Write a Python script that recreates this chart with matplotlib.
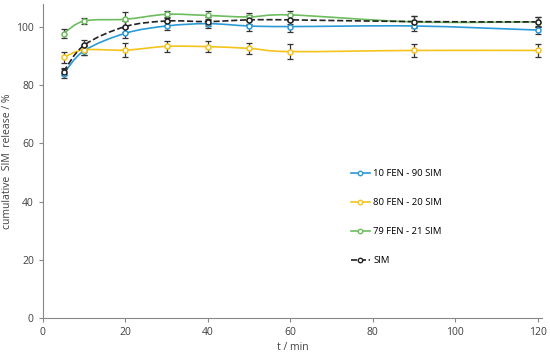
import numpy as np
import matplotlib.pyplot as plt
from matplotlib.path import Path
from matplotlib.patches import PathPatch

plt.rcParams['font.family'] = ['Open Sans', 'DejaVu Sans']

t = [5, 10, 20, 30, 40, 50, 60, 90, 120]

fen10 = [83.9, 91.8, 97.8, 100.3, 101.1, 100.3, 100.1, 100.3, 98.9]
fen10_err = [1.5, 1.5, 1.8, 1.5, 1.5, 1.8, 2.0, 1.8, 1.5]
fen80 = [89.5, 92.1, 92.0, 93.3, 93.2, 92.6, 91.5, 91.9, 91.9]
fen80_err = [2.0, 1.8, 2.5, 1.8, 1.8, 1.8, 2.5, 2.2, 2.2]
fen79 = [97.7, 102.0, 102.6, 104.3, 103.9, 103.4, 104.1, 101.7, 101.7]
fen79_err = [1.5, 1.0, 2.5, 1.2, 1.5, 1.2, 1.5, 2.0, 1.8]
sim = [84.6, 93.7, 100.1, 102.0, 101.8, 102.4, 102.4, 101.8, 101.7]
sim_err = [1.2, 1.8, 2.0, 1.5, 1.5, 1.5, 1.5, 1.8, 1.8]

labels = ['10 FEN - 90 SIM', '80 FEN - 20 SIM', '79 FEN - 21 SIM', 'SIM']
colors = ['#2b9ad8', '#f5c31c', '#6cbd5e', '#222222']
styles = ['-', '-', '-', '--']


def smooth_path(x, y):
    # excel style smoothed line (catmull-rom as bezier)
    x = np.asarray(x, float)
    y = np.asarray(y, float)
    verts = [(x[0], y[0])]
    codes = [Path.MOVETO]
    n = len(x)
    for i in range(n - 1):
        x0, y0 = (x[i - 1], y[i - 1]) if i > 0 else (x[i], y[i])
        x3, y3 = (x[i + 2], y[i + 2]) if i + 2 < n else (x[i + 1], y[i + 1])
        c1 = (x[i] + (x[i + 1] - x0) / 6, y[i] + (y[i + 1] - y0) / 6)
        c2 = (x[i + 1] - (x3 - x[i]) / 6, y[i + 1] - (y3 - y[i]) / 6)
        verts += [c1, c2, (x[i + 1], y[i + 1])]
        codes += [Path.CURVE4] * 3
    return Path(verts, codes)


fig = plt.figure(figsize=(5.5, 3.55), dpi=100)
ax = fig.add_axes([0.078, 0.104, 0.907, 0.886])

series = [(fen10, fen10_err), (fen80, fen80_err), (fen79, fen79_err), (sim, sim_err)]
for (vals, err), lab, col, ls in zip(series, labels, colors, styles):
    ax.add_patch(PathPatch(smooth_path(t, vals), fill=False, edgecolor=col,
                           lw=1.2, ls=ls, zorder=2))
    ax.errorbar(t, vals, yerr=err, fmt='none', ecolor='#333333', elinewidth=0.9,
                capsize=2, capthick=0.9, zorder=3)
    ax.plot(t, vals, ls='none', marker='o', ms=3.6, mfc='white', mec=col,
            mew=1.1, zorder=4)
    ax.plot([], [], color=col, ls=ls, lw=1.2, marker='o', ms=3.2, mfc='white',
            mec=col, mew=1.0, label=lab)

ax.set_xlim(0, 121)
ax.set_ylim(0, 108)
ax.set_xticks(range(0, 121, 20))
ax.set_yticks(range(0, 101, 20))
ax.tick_params(labelsize=7.5, length=3, color='#888888', labelcolor='#404040')
for s in ['top', 'right']:
    ax.spines[s].set_visible(False)
for s in ['left', 'bottom']:
    ax.spines[s].set_color('#888888')
ax.set_xlabel('t / min', fontsize=7.5, color='#404040', labelpad=3)
ax.set_ylabel('cumulative  SIM  release / %', fontsize=7.5, color='#404040',
              labelpad=2)

ax.legend(loc='upper left', bbox_to_anchor=(0.6, 0.5), frameon=False,
          fontsize=6.8, labelspacing=2.1, handlelength=2.0, handletextpad=0.4)

fig.savefig('out.png', dpi=100)
